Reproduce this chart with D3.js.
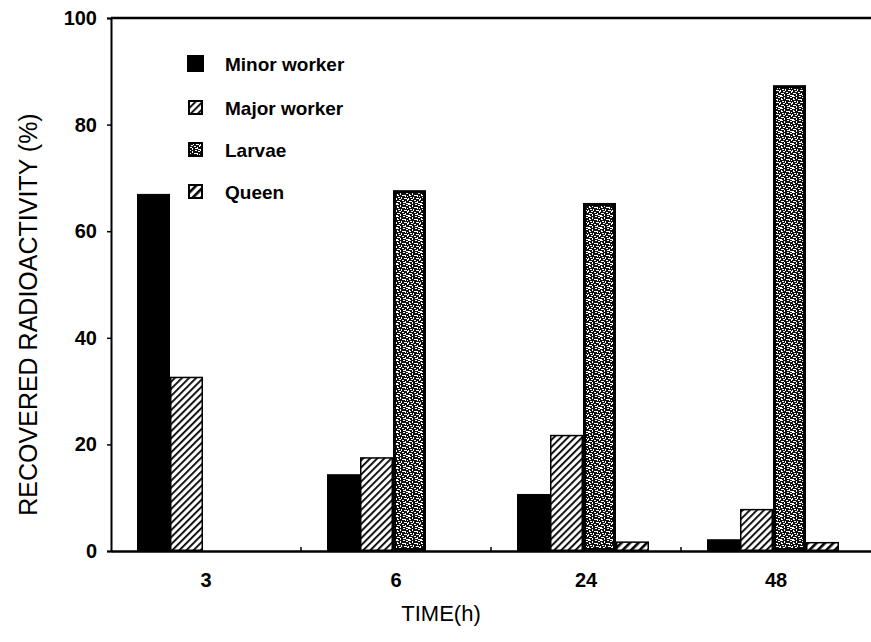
<!DOCTYPE html>
<html>
<head>
<meta charset="utf-8">
<script src="https://cdn.jsdelivr.net/npm/d3@7/dist/d3.min.js"></script>
<style>
  body { margin: 0; background: #fff; }
  svg { display: block; font-family: "Liberation Sans", Arial, Helvetica, sans-serif; }
</style>
</head>
<body>
<svg id="chart" width="871" height="642"></svg>
<script>
// ---- data ----
const categories = ["3", "6", "24", "48"];
const seriesNames = ["Minor worker", "Major worker", "Larvae", "Queen"];
const minorWorker = [67.0, 14.4, 10.7, 2.2];
const majorWorker = [32.7, 17.6, 21.8, 7.9];
const larvae      = [null, 67.7, 65.3, 87.4];
const queen       = [null, null, 1.8, 1.7];
const yTicks = [0, 20, 40, 60, 80, 100];

const seriesValues = [minorWorker, majorWorker, larvae, queen];

const svg = d3.select("#chart");
const margin = { left: 111, top: 18, right: 0, bottom: 91 };
const W = 871, H = 642;
const plotBottom = H - margin.bottom; // 551

// ---- patterns ----
const defs = svg.append("defs");
const pMajor = defs.append("pattern").attr("id", "pMajor")
  .attr("patternUnits", "userSpaceOnUse").attr("width", 5).attr("height", 5)
  .attr("patternTransform", "rotate(45)");
pMajor.append("rect").attr("width", 5).attr("height", 5).attr("fill", "#fff");
pMajor.append("rect").attr("x", 0).attr("width", 1.8).attr("height", 5).attr("fill", "#000");
const pQueen = defs.append("pattern").attr("id", "pQueen")
  .attr("patternUnits", "userSpaceOnUse").attr("width", 6).attr("height", 6)
  .attr("patternTransform", "rotate(45)");
pQueen.append("rect").attr("width", 6).attr("height", 6).attr("fill", "#fff");
pQueen.append("rect").attr("x", 0).attr("width", 2.6).attr("height", 6).attr("fill", "#000");
const pLarv = defs.append("pattern").attr("id", "pLarv")
  .attr("patternUnits", "userSpaceOnUse").attr("width", 12).attr("height", 12);
pLarv.append("rect").attr("width", 12).attr("height", 12).attr("fill", "#111");
const speck = [
  [0,0,3,1],[4,1,1,2],[7,0,2,1],[10,1,2,1],[1,2,1,2],[6,3,3,1],[9,3,1,2],
  [2,5,2,1],[5,5,1,2],[0,6,1,2],[8,6,3,1],[3,7,2,1],[11,7,1,2],[6,8,2,1],
  [1,9,3,1],[9,9,1,2],[4,10,1,2],[7,10,2,1],[0,11,2,1],[10,11,2,1],[2,3,1,1],[11,4,1,1]
];
speck.forEach(s => pLarv.append("rect").attr("x", s[0]).attr("y", s[1])
  .attr("width", s[2]).attr("height", s[3]).attr("fill", "#fff"));

const fills = ["#000", "url(#pMajor)", "url(#pLarv)", "url(#pQueen)"];
const strokeW = [1, 1.5, 3, 1.5];

// ---- scales ----
const x0 = d3.scaleBand().domain(categories).range([margin.left, W]).paddingInner(0).paddingOuter(0);
const x1 = d3.scaleBand().domain(seriesNames).range([26, 26 + 4 * 33]).padding(0);
const y = d3.scaleLinear().domain([0, 100]).range([plotBottom, margin.top]);

// ---- bars ----
const rows = [];
categories.forEach((c, i) => {
  seriesNames.forEach((s, j) => {
    const v = seriesValues[j][i];
    if (v != null) rows.push({ cat: c, series: s, j, value: v });
  });
});

svg.append("g").selectAll("rect").data(rows).join("rect")
  .attr("x", d => x0(d.cat) + x1(d.series) + strokeW[d.j] / 2)
  .attr("y", d => y(d.value) + strokeW[d.j] / 2)
  .attr("width", d => x1.bandwidth() - strokeW[d.j])
  .attr("height", d => Math.max(0, y(0) - y(d.value) - strokeW[d.j]))
  .attr("fill", d => fills[d.j])
  .attr("stroke", "#000")
  .attr("stroke-width", d => strokeW[d.j]);

// ---- axes ----
const yAxis = d3.axisLeft(y).tickValues(yTicks).tickSize(4).tickPadding(10).tickFormat(d3.format("d"));
const gy = svg.append("g").attr("transform", `translate(${margin.left},0)`).call(yAxis);
gy.select(".domain").attr("stroke-width", 2);
gy.selectAll(".tick line").attr("stroke-width", 1.5);
gy.selectAll("text").attr("font-size", 20).attr("font-weight", "bold").attr("fill", "#000");

const xAxis = d3.axisBottom(x0).tickSize(0).tickPadding(22);
const gx = svg.append("g").attr("transform", `translate(0,${plotBottom})`).call(xAxis);
gx.select(".domain").attr("stroke-width", 2.5);
gx.selectAll("text").attr("font-size", 20).attr("font-weight", "bold").attr("fill", "#000");

const bounds = categories.slice(1).map(c => x0(c));
svg.append("g").selectAll("line").data(bounds).join("line")
  .attr("x1", d => d).attr("x2", d => d)
  .attr("y1", plotBottom).attr("y2", plotBottom - 4)
  .attr("stroke", "#000").attr("stroke-width", 1.5);

svg.append("line").attr("x1", margin.left).attr("x2", W)
  .attr("y1", y(100)).attr("y2", y(100))
  .attr("stroke", "#000").attr("stroke-width", 2.5);

// ---- axis titles ----
svg.append("text")
  .attr("transform", `translate(37,${(y(0) + y(100)) / 2 + 30}) rotate(-90)`)
  .attr("text-anchor", "middle").attr("font-size", 25).attr("fill", "#000")
  .text("RECOVERED RADIOACTIVITY (%)");

svg.append("text")
  .attr("x", 441).attr("y", 621)
  .attr("text-anchor", "middle").attr("font-size", 22).attr("fill", "#000")
  .text("TIME(h)");

// ---- legend ----
const legendY = [64, 108, 150, 192];
const lg = svg.append("g").selectAll("g").data(seriesNames).join("g")
  .attr("transform", (d, i) => `translate(188,${legendY[i]})`);
lg.append("rect")
  .attr("x", (d, i) => i === 0 ? 0 : 1).attr("y", (d, i) => i === 0 ? -8 : -7)
  .attr("width", (d, i) => i === 0 ? 15 : 13).attr("height", (d, i) => i === 0 ? 15 : 13)
  .attr("fill", (d, i) => fills[i]).attr("stroke", "#000").attr("stroke-width", 2);
lg.append("text").attr("x", 37).attr("y", 7)
  .attr("font-size", 19).attr("font-weight", "bold").attr("fill", "#000")
  .text(d => d);
</script>
</body>
</html>
